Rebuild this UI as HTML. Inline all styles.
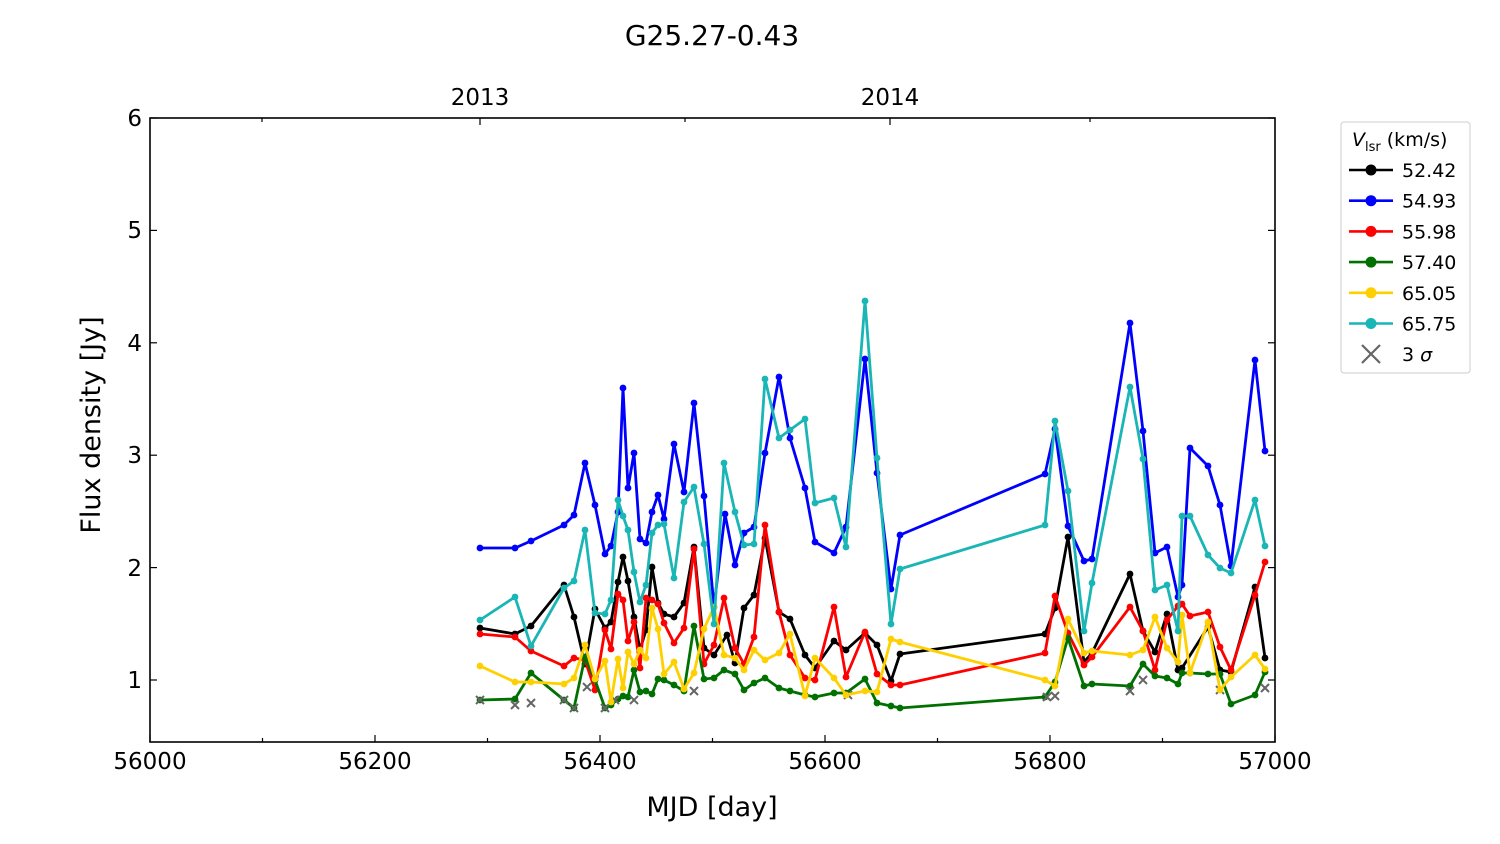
<!DOCTYPE html>
<html><head><meta charset="utf-8"><style>body{margin:0;background:#fff}svg{display:block}text{font-family:"DejaVu Sans","Liberation Sans",sans-serif;fill:#000}</style></head>
<body>
<svg id="s" width="1500" height="844" xmlns="http://www.w3.org/2000/svg">
<text x="712" y="45" font-size="28" text-anchor="middle">G25.27-0.43</text>
<text x="480" y="105" font-size="23" text-anchor="middle">2013</text>
<text x="890" y="105" font-size="23" text-anchor="middle">2014</text>
<g id="plot"></g>
<rect x="150" y="118" width="1125" height="624" fill="none" stroke="#000" stroke-width="1.6"/>
<g font-size="23" text-anchor="middle">
<text x="150" y="769">56000</text><text x="375" y="769">56200</text><text x="600" y="769">56400</text><text x="825" y="769">56600</text><text x="1050" y="769">56800</text><text x="1275" y="769">57000</text>
</g>
<g font-size="23" text-anchor="end">
<text x="142" y="688">1</text><text x="142" y="576">2</text><text x="142" y="463">3</text><text x="142" y="351">4</text><text x="142" y="238">5</text><text x="142" y="126">6</text>
</g>
<text x="712" y="816" font-size="27" text-anchor="middle">MJD [day]</text>
<text transform="translate(100,425) rotate(-90)" font-size="27" text-anchor="middle">Flux density [Jy]</text>
<g id="ticks" stroke="#000" stroke-width="1.2"></g>
<rect x="1341" y="122" width="129" height="251" rx="3" fill="#fff" stroke="#ccc"/>
<text x="1352" y="146" font-size="19"><tspan font-style="italic">V</tspan><tspan font-size="13" dy="5">lsr</tspan><tspan dy="-5"> (km/s)</tspan></text>
<g id="leg" font-size="19"></g>
</svg>
<script>
const NS="http://www.w3.org/2000/svg";
function el(p,t,a){const e=document.createElementNS(NS,t);for(const k in a)e.setAttribute(k,a[k]);p.appendChild(e);return e;}
const tk=document.getElementById('ticks');
for(let i=0;i<=10;i++){const x=150+i*112.5,l=i%2==0?7:4;el(tk,'line',{x1:x,y1:742,x2:x,y2:742-l});}
for(let v=1;v<=6;v++){const y=680-(v-1)*112.4;el(tk,'line',{x1:150,y1:y,x2:157,y2:y});el(tk,'line',{x1:1275,y1:y,x2:1268,y2:y});}
[480,890].forEach(x=>el(tk,'line',{x1:x,y1:118,x2:x,y2:125}));
[262,685,1090].forEach(x=>el(tk,'line',{x1:x,y1:118,x2:x,y2:122}));
const S={
blue:"480,548 515,548 531,541 564,525 574,515 585,463 595,505 605,554 611,546 618,512 623,388 628,488 634,453 640,539 646,543 652,512 658,495 664,519 674,444 684,492 694,403 704,496 714,607 725,514 735,565 744,533 754,527 765,453 779,377 790,438 805,488 815,542 834,553 846,527 865,359 877,473 891,589 900,535 1045,474 1055,429 1068,526 1084,561 1092,559 1130,323 1143,431 1155,553 1167,547 1178,597 1182,585 1190,448 1208,466 1220,505 1231,566 1255,360 1265,451",
c:"480,620 515,597 531,646 564,588 574,581 585,530 595,613 605,614 611,600 618,500 623,516 628,530 634,572 640,602 646,585 652,533 658,525 664,524 674,578 684,502 694,487 704,544 714,624 724,463 735,512 744,545 754,544 765,379 779,438 790,430 805,419 815,503 834,498 846,547 865,301 877,458 891,624 900,569 1045,525 1055,421 1068,491 1084,631 1092,583 1130,387 1143,459 1155,590 1167,585 1178,631 1182,516 1190,516 1208,555 1220,568 1231,573 1255,500 1265,546",
k:"480,628 515,634 531,626 564,585 574,617 585,664 595,609 605,628 611,622 618,582 623,557 628,581 634,617 640,650 646,630 652,567 658,603 664,614 674,617 684,603 694,547 704,648 714,655 727,635 735,663 744,608 754,595 765,538 779,612 790,619 805,655 815,668 834,641 846,650 865,633 877,645 891,681 900,654 1045,634 1055,608 1068,537 1084,662 1092,653 1130,574 1143,631 1155,652 1167,614 1178,670 1182,668 1208,627 1220,670 1231,672 1255,587 1265,658",
r:"480,634 515,637 531,651 564,666 574,658 585,660 595,690 605,630 611,649 618,594 623,600 628,641 634,622 640,668 646,598 652,600 658,604 664,623 674,643 684,628 694,549 704,664 714,645 724,598 735,648 744,664 754,637 765,525 779,612 790,655 805,678 815,680 834,607 846,677 865,632 877,674 891,685 900,685 1045,653 1055,596 1068,633 1084,665 1092,657 1130,607 1143,631 1155,670 1167,620 1178,606 1182,604 1190,616 1208,612 1220,647 1231,670 1255,595 1265,562",
y:"480,666 515,682 531,682 564,684 574,678 585,645 595,679 605,661 611,702 618,659 623,688 628,652 634,664 640,650 646,658 652,608 658,629 664,674 674,662 684,689 694,673 704,629 714,607 724,655 735,658 744,670 754,650 765,660 779,653 790,634 805,696 815,658 834,678 846,695 865,691 877,692 891,639 900,642 1045,680 1055,686 1068,619 1084,653 1092,651 1130,655 1143,650 1155,617 1167,648 1178,662 1182,615 1190,673 1208,622 1220,690 1231,677 1255,655 1265,669",
g:"480,700 515,699 531,673 564,700 574,708 585,657 595,680 605,708 611,705 618,699 623,696 628,697 634,670 640,692 646,691 652,694 658,679 664,680 674,685 684,691 694,626 704,679 714,678 724,670 735,674 744,690 754,683 765,678 779,688 790,691 805,695 815,697 834,693 846,693 865,679 877,703 891,706 900,708 1045,697 1055,682 1068,638 1084,686 1092,684 1130,686 1143,664 1155,676 1167,678 1178,684 1182,673 1190,673 1208,674 1220,674 1231,704 1255,695 1265,672"};
const col={k:"#000",blue:"#0000ff",r:"#ff0000",g:"#007000",y:"#ffd000",c:"#1ab5b5"};
const P=document.getElementById('plot');
const xs=[[515,705],[531,703],[587,687],[634,700],[694,691],[615,700],[605,708],[848,695],[1047,697],[1055,696],[1130,691],[1143,680],[1220,690],[1265,688],[480,700],[564,700],[574,708]];
["k","blue","r","g","y","c"].forEach(k=>{
 el(P,'polyline',{points:S[k],fill:"none",stroke:col[k],"stroke-width":2.8,"stroke-linejoin":"round"});
 S[k].split(' ').forEach(p=>{const [x,y]=p.split(',');el(P,'circle',{cx:x,cy:y,r:3.4,fill:col[k]});});
 if(k=="g")xs.forEach(([x,y])=>{el(P,'path',{d:`M${x-4},${y-4}L${x+4},${y+4}M${x-4},${y+4}L${x+4},${y-4}`,stroke:"#666","stroke-width":2});});
});
const L=document.getElementById('leg');
const lg=[["k","52.42"],["blue","54.93"],["r","55.98"],["g","57.40"],["y","65.05"],["c","65.75"]];
lg.forEach(([k,t],i)=>{const y=170+i*30.7;el(L,'line',{x1:1349,y1:y,x2:1393,y2:y,stroke:col[k],"stroke-width":2.6});el(L,'circle',{cx:1371,cy:y,r:5.5,fill:col[k]});const tx=el(L,'text',{x:1402,y:y+7});tx.textContent=t;});
const y7=354;el(L,'path',{d:`M1362,${y7-9}L1380,${y7+9}M1362,${y7+9}L1380,${y7-9}`,stroke:"#666","stroke-width":2.2});
const t7=el(L,'text',{x:1402,y:y7+7});t7.innerHTML='3 <tspan font-style="italic">σ</tspan>';
</script>
</body></html>
